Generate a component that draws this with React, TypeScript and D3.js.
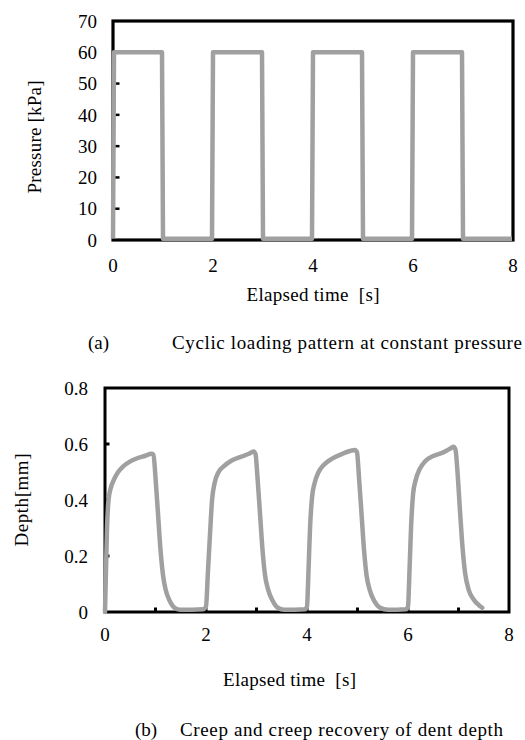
import React from "react";
import * as d3 from "d3";

// ---------- Data ----------
const xTicks = [0, 2, 4, 6, 8];
const pressureTicks = [0, 10, 20, 30, 40, 50, 60, 70];
const depthTicks = [0, 0.2, 0.4, 0.6, 0.8];
const depthTickLabels = ["0", "0.2", "0.4", "0.6", "0.8"];

// Pressure [kPa] vs time [s] (square wave)
const pressureTime = [0, 0.02, 0.98, 1.0, 1.98, 2.0, 2.98, 3.0, 3.98, 4.0, 4.98, 5.0, 5.98, 6.0, 6.98, 7.0, 7.98];
const pressureValue = [0.4, 60, 60, 0.4, 0.4, 60, 60, 0.4, 0.4, 60, 60, 0.4, 0.4, 60, 60, 0.4, 0.4];

// Dent depth [mm] vs time [s]
const depthTime = [
  0, 0.02, 0.04, 0.07, 0.11, 0.17, 0.26, 0.36, 0.5, 0.65, 0.8, 0.92, 0.96, 1.0, 1.05, 1.1, 1.15, 1.2, 1.28, 1.38, 1.5, 1.95,
  2.0, 2.04, 2.08, 2.12, 2.17, 2.25, 2.35, 2.5, 2.7, 2.85, 2.94, 2.98, 3.02, 3.07, 3.12, 3.17, 3.23, 3.32, 3.42, 3.55, 3.96,
  4.0, 4.03, 4.06, 4.1, 4.15, 4.23, 4.33, 4.5, 4.7, 4.85, 4.95, 4.99, 5.03, 5.08, 5.13, 5.18, 5.24, 5.33, 5.45, 5.6, 5.96,
  6.0, 6.03, 6.06, 6.1, 6.15, 6.23, 6.35, 6.5, 6.7, 6.85, 6.9, 6.94, 6.98, 7.03, 7.08, 7.13, 7.2, 7.3, 7.4, 7.47,
];
const depthValue = [
  0.0, 0.15, 0.3, 0.4, 0.44, 0.47, 0.5, 0.52, 0.538, 0.55, 0.558, 0.565, 0.562, 0.48, 0.35, 0.22, 0.13, 0.08, 0.04, 0.015, 0.008, 0.01,
  0.02, 0.15, 0.28, 0.4, 0.46, 0.5, 0.52, 0.54, 0.555, 0.565, 0.573, 0.565, 0.48, 0.35, 0.22, 0.13, 0.08, 0.04, 0.015, 0.008, 0.01,
  0.02, 0.15, 0.3, 0.41, 0.46, 0.5, 0.525, 0.548, 0.565, 0.575, 0.579, 0.57, 0.48, 0.35, 0.22, 0.13, 0.08, 0.04, 0.015, 0.008, 0.01,
  0.02, 0.15, 0.3, 0.42, 0.47, 0.51, 0.54, 0.557, 0.57, 0.585, 0.59, 0.58, 0.5, 0.36, 0.23, 0.14, 0.08, 0.045, 0.025, 0.015,
];

const FONT =
  '"Liberation Serif", "Times New Roman", Times, Tinos, "Nimbus Roman", "Nimbus Roman No9 L", FreeSerif, "DejaVu Serif", "Noto Serif", serif';
const LINE = "#a0a0a0";

export default function App() {
  // Chart (a)
  const xa = d3.scaleLinear().domain([0, 8]).range([113, 513]);
  const ya = d3.scaleLinear().domain([0, 70]).range([240, 21]);
  // Chart (b)
  const xb = d3.scaleLinear().domain([0, 8]).range([105, 509]);
  const yb = d3.scaleLinear().domain([0, 0.8]).range([612, 388]);

  const pData = pressureTime.map((t, i) => [t, pressureValue[i]] as [number, number]);
  const dData = depthTime.map((t, i) => [t, depthValue[i]] as [number, number]);

  const pLine = d3
    .line<[number, number]>()
    .x((d) => xa(d[0]))
    .y((d) => ya(d[1]));
  const dLine = d3
    .line<[number, number]>()
    .x((d) => xb(d[0]))
    .y((d) => yb(d[1]))
    .curve(d3.curveMonotoneX);

  const minorA = [10, 20, 30, 40, 50, 60];
  const minorBx = [1, 2, 3, 4, 5, 6, 7];
  const minorBy = [0.2, 0.4, 0.6];

  const ts: React.CSSProperties = { fontFamily: FONT, fontSize: 19 };

  return (
    <svg
      width={525}
      height={740}
      style={{ position: "absolute", left: 0, top: 0, background: "#fff", fontFamily: FONT, fontSize: 19 }}
    >
      <rect x={0} y={0} width={525} height={740} fill="#fff" />

      {/* ---------- Chart (a) ---------- */}
      {minorA.map((v) => (
        <line key={"ma" + v} x1={xa(0)} x2={xa(0) + 6.5} y1={ya(v)} y2={ya(v)} stroke="#000" strokeWidth={2.5} />
      ))}
      <rect
        x={xa(0)}
        y={ya(70)}
        width={xa(8) - xa(0)}
        height={ya(0) - ya(70)}
        fill="none"
        stroke="#000"
        strokeWidth={3.2}
      />
      <path d={pLine(pData) || ""} fill="none" stroke={LINE} strokeWidth={4.5} strokeLinejoin="round" />
      {pressureTicks.map((v) => (
        <text key={"pa" + v} style={ts} x={97} y={ya(v)} dy="0.35em" textAnchor="end">
          {v}
        </text>
      ))}
      {xTicks.map((v) => (
        <text key={"xa" + v} style={ts} x={xa(v)} y={272} textAnchor="middle">
          {v}
        </text>
      ))}
      <text style={ts} x={313} y={301} textAnchor="middle" textLength={133} lengthAdjust="spacing">
        {"Elapsed time\u00a0\u00a0[s]"}
      </text>
      <text
        style={ts}
        transform={`translate(41,${137}) rotate(-90)`}
        textAnchor="middle"
        textLength={113}
        lengthAdjust="spacing"
      >
        Pressure [kPa]
      </text>
      <text style={ts} x={88} y={349}>(a)</text>
      <text style={ts} x={172} y={349} textLength={350} lengthAdjust="spacing">
        Cyclic loading pattern at constant pressure
      </text>

      {/* ---------- Chart (b) ---------- */}
      {minorBx.map((v) => (
        <line key={"mbx" + v} x1={xb(v)} x2={xb(v)} y1={yb(0)} y2={yb(0) - 4.5} stroke="#000" strokeWidth={3} />
      ))}
      {minorBy.map((v) => (
        <line key={"mby" + v} x1={xb(0)} x2={xb(0) + 4.5} y1={yb(v)} y2={yb(v)} stroke="#000" strokeWidth={3} />
      ))}
      <rect
        x={xb(0)}
        y={yb(0.8)}
        width={xb(8) - xb(0)}
        height={yb(0) - yb(0.8)}
        fill="none"
        stroke="#000"
        strokeWidth={3}
      />
      <path d={dLine(dData) || ""} fill="none" stroke={LINE} strokeWidth={4.5} strokeLinejoin="round" strokeLinecap="round" />
      {depthTicks.map((v, i) => (
        <text key={"db" + v} style={ts} x={88} y={yb(v)} dy="0.35em" textAnchor="end">
          {depthTickLabels[i]}
        </text>
      ))}
      {xTicks.map((v) => (
        <text key={"xb" + v} style={ts} x={xb(v)} y={641} textAnchor="middle">
          {v}
        </text>
      ))}
      <text style={ts} x={289.5} y={686} textAnchor="middle" textLength={133} lengthAdjust="spacing">
        {"Elapsed time\u00a0\u00a0[s]"}
      </text>
      <text
        style={ts}
        transform={`translate(28,${500}) rotate(-90)`}
        textAnchor="middle"
        textLength={93}
        lengthAdjust="spacing"
      >
        Depth[mm]
      </text>
      <text style={ts} x={135} y={736}>(b)</text>
      <text style={ts} x={180} y={736} textLength={323} lengthAdjust="spacing">
        Creep and creep recovery of dent depth
      </text>
    </svg>
  );
}
